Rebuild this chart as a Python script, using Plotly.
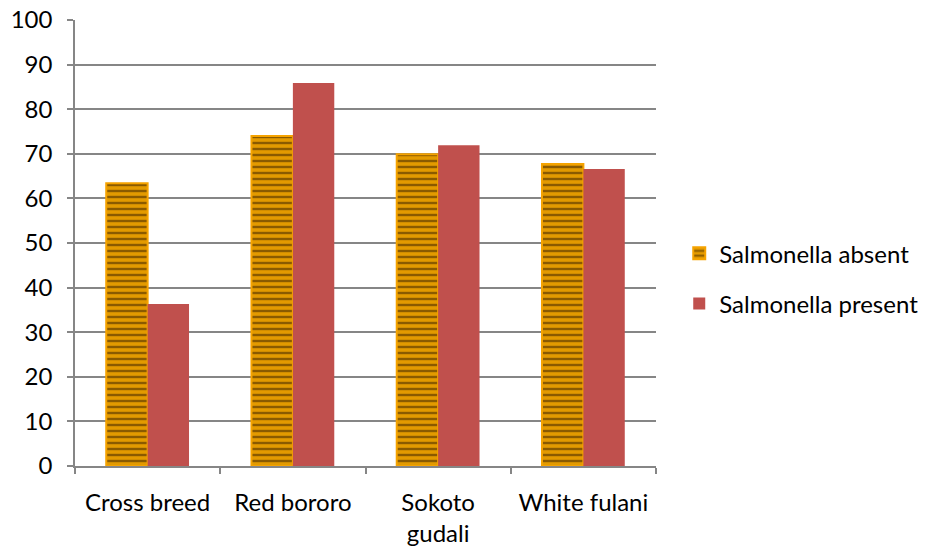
import plotly.graph_objects as go

categories = ["Cross breed", "Red bororo", "Sokoto<br>gudali", "White fulani"]
absent = [63.4, 74.0, 69.9, 67.7]
present = [36.3, 85.9, 71.9, 66.6]
series_names = ["Salmonella absent", "Salmonella present"]

FONT = "Lato, Open Sans, sans-serif"
GRID = "#868686"

fig = go.Figure()
fig.add_trace(go.Bar(
    x=categories, y=absent, name=series_names[0], legendgroup="a",
    marker=dict(
        color="#C98600",
        line=dict(color="#F5A300", width=2),
        pattern=dict(shape="-", fgcolor="#8A5A00", bgcolor="#E39A00",
                     size=6, solidity=0.4, fillmode="replace"),
    ),
))
fig.add_trace(go.Bar(
    x=categories, y=present, name=series_names[1], legendgroup="b",
    marker=dict(color="#C0504D", line=dict(width=0)),
))

fig.update_layout(
    width=931, height=552,
    margin=dict(l=75, r=275, t=20, b=86, autoexpand=False),
    paper_bgcolor="white", plot_bgcolor="white",
    barmode="group", bargap=0.43, bargroupgap=0,
    font=dict(family=FONT, size=24, color="#000000"),
    legend=dict(x=1.04, y=0.42, xanchor="left", yanchor="middle",
                font=dict(size=24), traceorder="grouped", tracegroupgap=16,
                itemwidth=30),
    showlegend=True,
)
fig.update_yaxes(
    range=[0, 100], dtick=10, showgrid=True, gridcolor=GRID, gridwidth=1.5,
    showline=True, linecolor=GRID, linewidth=1.5,
    ticks="outside", ticklen=6, tickcolor=GRID, tickwidth=1.5,
    tickfont=dict(size=24), zeroline=False, ticklabelstandoff=10,
    automargin=False,
)
fig.update_xaxes(
    showline=True, linecolor=GRID, linewidth=1.5,
    ticks="outside", ticklen=6, tickcolor=GRID, tickwidth=1.5,
    tickson="boundaries", tickfont=dict(size=24), showgrid=False,
    ticklabelstandoff=14, automargin=False,
)

fig.write_html("out.html")
